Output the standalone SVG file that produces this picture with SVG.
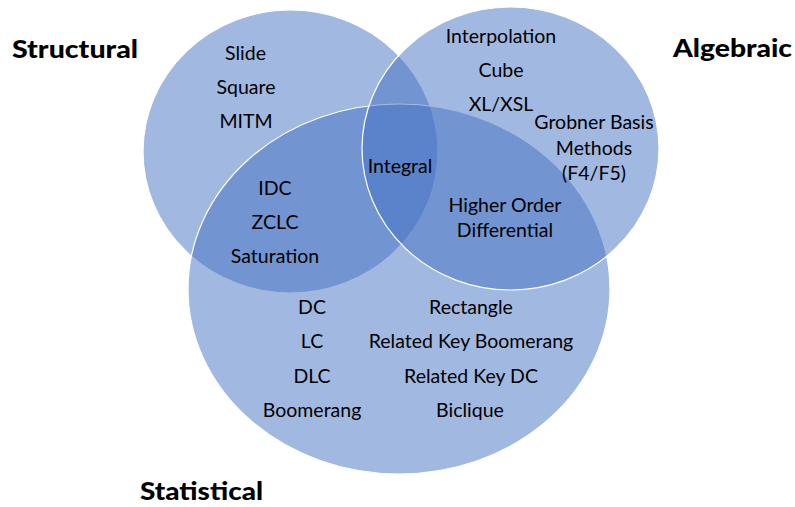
<svg xmlns="http://www.w3.org/2000/svg" width="795" height="507" viewBox="0 0 795 507">
  <style>
    .set { fill: #4472c4; fill-opacity: 0.5; stroke: #ffffff; stroke-width: 1.2; }
    .item { font-family: "Lato", "Liberation Sans", sans-serif; font-size: 19.5px; fill: #000000; text-anchor: middle; }
    .title { font-family: "Lato", "Liberation Sans", sans-serif; font-size: 24px; font-weight: 900; fill: #000000; }
  </style>
  <rect width="795" height="507" fill="#ffffff"/>

  <!-- Structural set -->
  <g id="structural">
    <ellipse class="set" cx="290.5" cy="151.5" rx="147.5" ry="141.5"/>
  </g>

  <!-- Statistical set -->
  <g id="statistical">
    <ellipse class="set" cx="399" cy="289" rx="211" ry="185"/>
  </g>

  <!-- Algebraic set -->
  <g id="algebraic">
    <ellipse class="set" cx="510.5" cy="148.5" rx="148.5" ry="141.5"/>
  </g>

  <!-- Set titles -->
  <g id="titles">
    <text class="title" x="12" y="58" textLength="126" lengthAdjust="spacingAndGlyphs">Structural</text>
    <text class="title" x="673" y="57" textLength="119" lengthAdjust="spacingAndGlyphs">Algebraic</text>
    <text class="title" x="140" y="500" textLength="123" lengthAdjust="spacingAndGlyphs">Statistical</text>
  </g>

  <!-- Structural only -->
  <g id="structural-items">
    <text class="item" x="245.5" y="60">Slide</text>
    <text class="item" x="246" y="94">Square</text>
    <text class="item" x="246" y="128">MITM</text>
  </g>

  <!-- Algebraic only -->
  <g id="algebraic-items">
    <text class="item" x="501" y="43">Interpolation</text>
    <text class="item" x="501" y="77">Cube</text>
    <text class="item" x="501" y="111">XL/XSL</text>
    <text class="item" x="594" y="129">Grobner Basis</text>
    <text class="item" x="594" y="155">Methods</text>
    <text class="item" x="594" y="180">(F4/F5)</text>
  </g>

  <!-- Structural and Statistical -->
  <g id="structural-statistical-items">
    <text class="item" x="275" y="195">IDC</text>
    <text class="item" x="275" y="229">ZCLC</text>
    <text class="item" x="275" y="263">Saturation</text>
  </g>

  <!-- All three sets -->
  <g id="center-items">
    <text class="item" x="400" y="173">Integral</text>
  </g>

  <!-- Algebraic and Statistical -->
  <g id="algebraic-statistical-items">
    <text class="item" x="505" y="212">Higher Order</text>
    <text class="item" x="505" y="237">Differential</text>
  </g>

  <!-- Statistical only -->
  <g id="statistical-items">
    <text class="item" x="312" y="314">DC</text>
    <text class="item" x="312" y="348">LC</text>
    <text class="item" x="312" y="383">DLC</text>
    <text class="item" x="312" y="417">Boomerang</text>
    <text class="item" x="471" y="314">Rectangle</text>
    <text class="item" x="471" y="348">Related Key Boomerang</text>
    <text class="item" x="471" y="383">Related Key DC</text>
    <text class="item" x="470" y="417">Biclique</text>
  </g>

  <!-- no connectors in this diagram -->
  <g id="connectors"/>
</svg>
